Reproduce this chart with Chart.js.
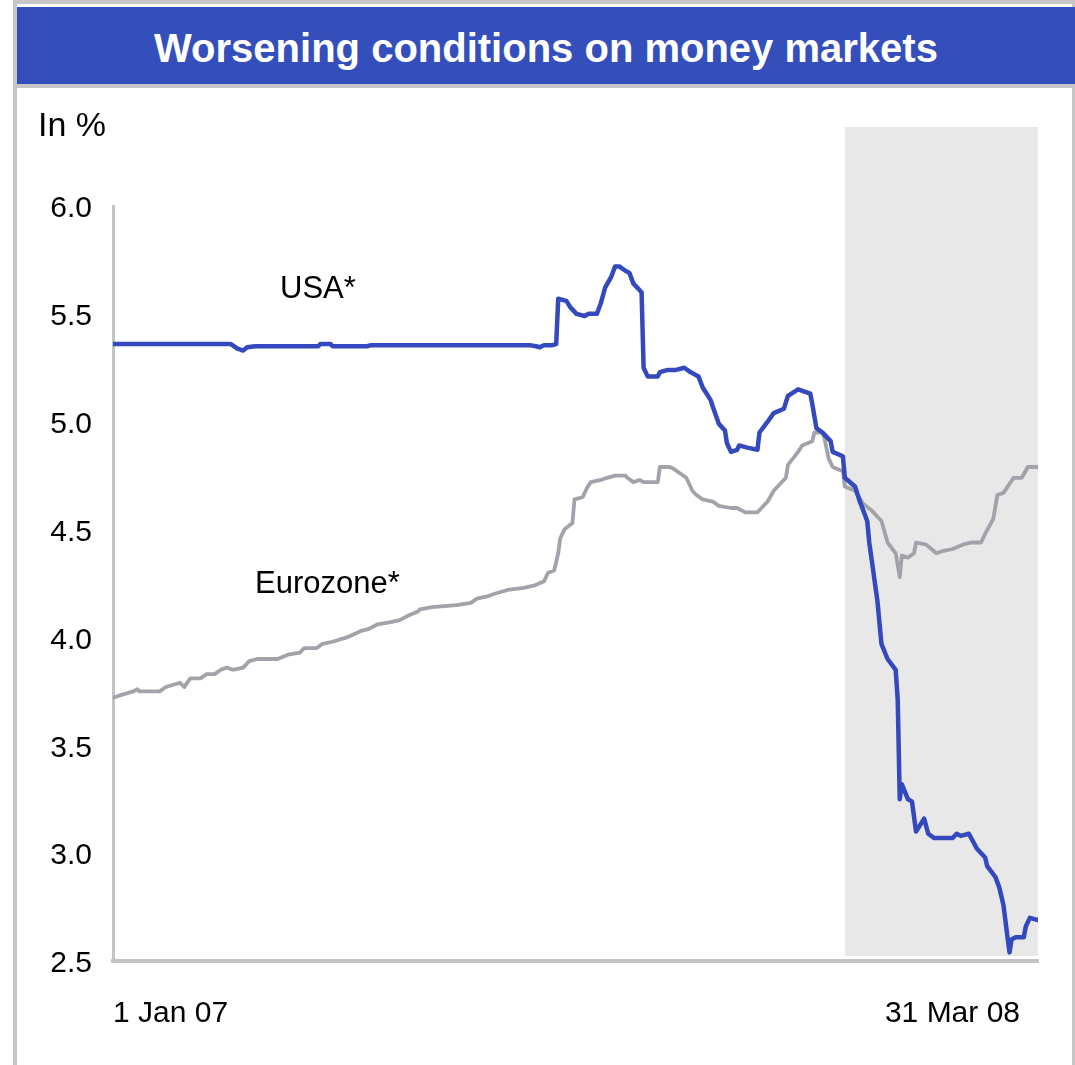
<!DOCTYPE html>
<html><head><meta charset="utf-8">
<script src="https://cdn.jsdelivr.net/npm/chart.js@4.4.1/dist/chart.umd.min.js"></script>
<style>
html,body{margin:0;padding:0;background:#fff;width:1075px;height:1065px;overflow:hidden;font-family:"Liberation Sans",Arial,sans-serif;}
#frame{position:absolute;left:13px;top:0;width:1055px;height:1100px;border:4px solid #c6c6c6;border-bottom:none;}
#title{position:absolute;left:17px;top:7px;width:1058px;height:77px;background:#344ebc;color:#fff;font-weight:bold;font-size:40px;line-height:82px;text-align:center;overflow:hidden;}
#rule{position:absolute;left:17px;top:84px;width:1058px;height:4px;background:#c6c6c6;}
#wrap{position:absolute;left:0;top:0;width:1075px;height:1065px;}
</style></head><body>
<div id="frame"></div>
<div id="title">Worsening conditions on money markets</div>
<div id="rule"></div>
<div id="wrap"><canvas id="c" width="1075" height="1065"></canvas></div>
<script>
// Days since 1 Jan 2007
const usaDays = [0,58,61,64,66,70,101,102,107,108,125,127,205,208,210,212,216,218,219,223,225,228,232,234,238,240,242,245,247,249,252,254,256,260,261,263,268,269,273,277,281,284,288,290,294,295,298,301,302,304,307,308,312,317,318,322,325,330,332,337,343,344,346,349,353,354,359,360,365,367,371,372,376,378,381,385,386,387,388,391,393,395,399,401,404,413,415,417,421,425,429,430,434,436,438,440,441,442,444,448,449,451,455];
const usaValues = [5.36,5.36,5.34,5.33,5.345,5.35,5.35,5.36,5.36,5.35,5.35,5.355,5.355,5.35,5.345,5.355,5.355,5.36,5.57,5.56,5.53,5.50,5.49,5.50,5.50,5.55,5.62,5.67,5.72,5.72,5.70,5.69,5.64,5.60,5.25,5.21,5.21,5.23,5.24,5.24,5.25,5.23,5.21,5.16,5.10,5.07,4.99,4.96,4.90,4.86,4.87,4.89,4.88,4.87,4.95,5.00,5.04,5.06,5.12,5.15,5.13,5.08,4.97,4.95,4.91,4.86,4.84,4.74,4.70,4.64,4.54,4.44,4.17,3.97,3.90,3.85,3.71,3.25,3.32,3.25,3.24,3.10,3.16,3.09,3.07,3.07,3.09,3.08,3.09,3.02,2.98,2.94,2.89,2.84,2.76,2.61,2.54,2.60,2.61,2.61,2.66,2.70,2.69];
const euroDays = [0,3,10,12,13,23,26,33,35,38,43,46,50,53,56,59,64,67,71,81,86,92,94,100,103,108,115,122,126,130,136,141,145,150,151,157,169,176,179,184,187,194,202,207,212,214,217,219,220,222,226,227,231,233,235,240,243,247,252,253,256,259,261,268,269,274,276,279,282,285,287,290,295,298,304,307,311,317,319,322,325,328,331,332,337,339,344,345,349,350,352,354,359,360,365,369,373,378,381,385,387,388,391,394,395,400,405,408,413,418,422,427,429,433,435,438,443,447,450,455];
const euroValues = [3.72,3.73,3.75,3.76,3.75,3.75,3.77,3.79,3.77,3.81,3.81,3.83,3.83,3.85,3.86,3.85,3.86,3.89,3.90,3.90,3.92,3.93,3.95,3.95,3.97,3.98,4.00,4.03,4.04,4.06,4.07,4.08,4.10,4.12,4.13,4.14,4.15,4.16,4.18,4.19,4.20,4.22,4.23,4.24,4.26,4.30,4.31,4.39,4.46,4.50,4.53,4.64,4.65,4.69,4.72,4.73,4.74,4.75,4.75,4.74,4.72,4.73,4.72,4.72,4.79,4.79,4.78,4.76,4.74,4.68,4.66,4.64,4.63,4.61,4.60,4.60,4.58,4.58,4.60,4.63,4.68,4.71,4.74,4.80,4.86,4.89,4.91,4.95,4.95,4.92,4.83,4.79,4.77,4.70,4.68,4.62,4.59,4.54,4.44,4.39,4.28,4.38,4.37,4.39,4.44,4.43,4.39,4.40,4.41,4.43,4.44,4.44,4.48,4.55,4.66,4.67,4.74,4.74,4.79,4.79];
const seriesNames = ['USA*', 'Eurozone*'];
const xTickDays = [0, 455];
const xTickLabels = ['1 Jan 07', '31 Mar 08'];
const yMin = 2.5, yMax = 6.0, yStep = 0.5;
const shadeFromDay = 360, shadeToDay = 455;
const lastLabelInset = 18;

const FONT = '"Liberation Sans", Arial, sans-serif';
const toPts = (d, v) => d.map((x, i) => ({x: x, y: v[i]}));

const shadePlugin = {
  id: 'shade',
  beforeDraw(chart) {
    const items = chart.scales.x.getLabelItems();
    const last = items[items.length - 1];
    if (last && !last._shifted) { last.options.translation[0] -= lastLabelInset; last._shifted = true; }
  },
  beforeDatasetsDraw(chart) {
    const {ctx} = chart, xs = chart.scales.x;
    const x1 = xs.getPixelForValue(shadeFromDay), x2 = xs.getPixelForValue(shadeToDay);
    ctx.save();
    ctx.fillStyle = '#e8e8e8';
    ctx.fillRect(x1, 127, x2 - x1, 956 - 127);
    ctx.restore();
  }
};
const textPlugin = {
  id: 'texts',
  afterDraw(chart) {
    const {ctx} = chart;
    ctx.save();
    ctx.fillStyle = '#000';
    ctx.textBaseline = 'alphabetic';
    ctx.textAlign = 'left';
    ctx.font = '34px ' + FONT;
    ctx.fillText('In %', 38, 136);
    ctx.font = '31px ' + FONT;
    ctx.fillText(seriesNames[0], 280, 298);
    ctx.fillText(seriesNames[1], 255, 593);
    ctx.restore();
  }
};

new Chart(document.getElementById('c'), {
  type: 'line',
  data: {
    datasets: [
      {label: seriesNames[0], data: toPts(usaDays, usaValues), borderColor: '#3349bd', borderWidth: 4.5, pointRadius: 0, tension: 0, borderJoinStyle: 'round', borderCapStyle: 'round'},
      {label: seriesNames[1], data: toPts(euroDays, euroValues), borderColor: '#a2a2aa', borderWidth: 3.8, pointRadius: 0, tension: 0, borderJoinStyle: 'round', borderCapStyle: 'round'}
    ]
  },
  options: {
    responsive: false,
    animation: false,
    devicePixelRatio: 1,
    layout: {padding: {left: 0, top: 206, right: 37, bottom: 0}},
    plugins: {legend: {display: false}, tooltip: {enabled: false}},
    scales: {
      x: {
        type: 'linear', min: 0, max: 455,
        grid: {display: false, drawTicks: false},
        border: {display: true, color: '#c4c4c4', width: 4},
        afterBuildTicks: s => { s.ticks = xTickDays.map(v => ({value: v})); },
        afterFit: s => { s.height = 104; s.paddingLeft = 0; s.paddingRight = 0; },
        ticks: {
          autoSkip: false, maxRotation: 0, align: 'inner', padding: 35,
          color: '#000', font: {family: FONT, size: 30},
          callback: (v, i) => xTickLabels[i]
        }
      },
      y: {
        min: yMin, max: yMax,
        grid: {display: false, drawTicks: false},
        border: {display: true, color: '#c4c4c4', width: 3},
        afterFit: s => { s.width = 113; },
        ticks: {
          stepSize: yStep, padding: 21, labelOffset: 3, color: '#000',
          font: {family: FONT, size: 30},
          callback: v => Number(v).toFixed(1)
        }
      }
    }
  },
  plugins: [shadePlugin, textPlugin]
});
</script>
</body></html>
